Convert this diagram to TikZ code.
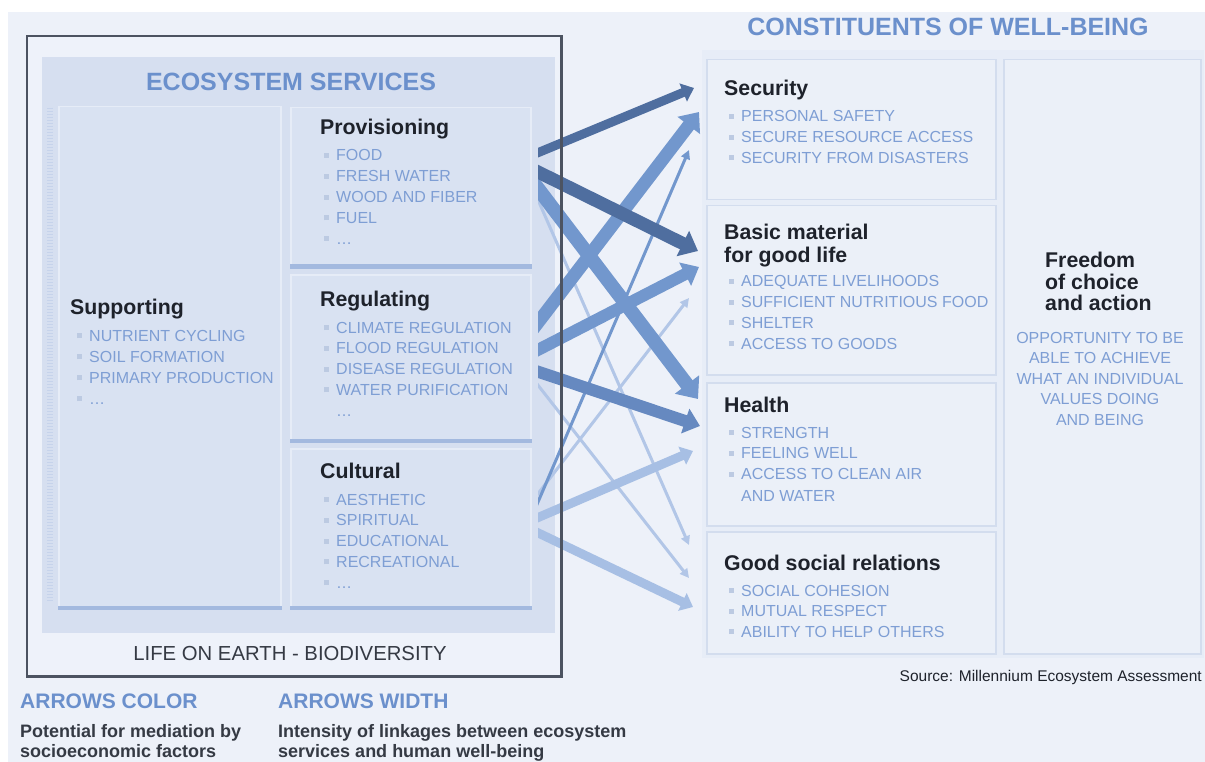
\documentclass[tikz,border=0pt]{standalone}
\usepackage{fontspec}
\setmainfont{Liberation Sans}
\usetikzlibrary{arrows.meta}
\definecolor{bgc}{HTML}{EDF1F9}
\definecolor{outerc}{HTML}{EEF2FA}
\definecolor{panelc}{HTML}{D6DFF0}
\definecolor{boxc}{HTML}{D9E2F2}
\definecolor{boxedge}{HTML}{E6ECF7}
\definecolor{barc}{HTML}{A3B9DF}
\definecolor{rboxc}{HTML}{EBF0F8}
\definecolor{rboxedge}{HTML}{D3DDEE}
\definecolor{rpanelc}{HTML}{E7EDF7}
\definecolor{borderc}{HTML}{4C5361}
\definecolor{headc}{HTML}{6B90CC}
\definecolor{itemc}{HTML}{7E9ED4}
\definecolor{bulc}{HTML}{BCCAE2}
\definecolor{titlec}{HTML}{1E222B}
\definecolor{grayt}{HTML}{353A44}
\definecolor{adark}{HTML}{4F6E9F}
\definecolor{amed}{HTML}{7297CD}
\definecolor{amedd}{HTML}{6689C0}
\definecolor{alight}{HTML}{A7BFE4}
\definecolor{athin}{HTML}{B2C6E7}
\definecolor{rulerc}{HTML}{C6D3EB}
\newcommand\itmbul{\llap{\textcolor{bulc}{\rule[3pt]{5pt}{5pt}}\hspace{7pt}}}
\begin{document}
\begin{tikzpicture}[x=1pt,y=-1pt,
  item/.style={font=\fontsize{16}{19}\selectfont, text=itemc, inner sep=0pt, anchor=base west},
  ttl/.style={font=\bfseries\fontsize{21.3}{24}\selectfont, text=titlec, inner sep=0pt, anchor=base west},
  head/.style={font=\bfseries\fontsize{25}{28}\selectfont, text=headc, inner sep=0pt, anchor=base},
  lbox/.style={fill=boxc, draw=boxedge, line width=1.5pt, inner sep=0pt, anchor=north west},
  rbox/.style={fill=rboxc, draw=rboxedge, line width=1.5pt, inner sep=0pt, anchor=north west},
  bar/.style={draw=barc, line width=4pt},
  fat/.style={line width=#1, -{Triangle[length=0pt 1.3, width=0pt 2.1]}},
  slim/.style={line width=#1, -{Triangle[length=9pt, width=9pt]}},
  legh/.style={font=\bfseries\fontsize{21}{24}\selectfont, text=headc, inner sep=0pt, anchor=base west},
  legt/.style={font=\bfseries\fontsize{18}{20}\selectfont, text=grayt, inner sep=0pt, anchor=base west}]
\useasboundingbox (0,0) rectangle (1205,762);
% background
\fill[white] (0,0) rectangle (1205,762);
\fill[bgc] (8,12) rectangle (1205,762);
\fill[rpanelc] (702,50) rectangle (1204,658);
% left frame and panel
\node[fill=outerc, inner sep=0pt, anchor=north west, minimum width=534pt, minimum height=640pt] (outer) at (27,36) {};
\node[fill=panelc, inner sep=0pt, anchor=north west, minimum width=513pt, minimum height=576pt] (panel) at (42,57) {};
% left boxes
\node[lbox, minimum width=222pt, minimum height=500pt] (supp) at (58,106) {};
\node[lbox, minimum width=240pt, minimum height=158pt] (prov) at (290,107) {};
\node[lbox, minimum width=240pt, minimum height=165pt] (regu) at (290,274) {};
\node[lbox, minimum width=240pt, minimum height=158pt] (cult) at (290,448) {};
\draw[bar] (supp.south west) -- (supp.south east);
\draw[bar] (prov.south west) -- (prov.south east);
\draw[bar] (regu.south west) -- (regu.south east);
\draw[bar] (cult.south west) -- (cult.south east);
\draw[rulerc, line width=6pt, dash pattern=on 1pt off 2pt] (50,108) -- (50,602);
% right boxes
\node[rbox, minimum width=289pt, minimum height=140pt] (secu) at (706,59) {};
\node[rbox, minimum width=289pt, minimum height=169pt] (basic) at (706,205) {};
\node[rbox, minimum width=289pt, minimum height=143pt] (health) at (706,382) {};
\node[rbox, minimum width=289pt, minimum height=122pt] (social) at (706,531) {};
\node[rbox, minimum width=197pt, minimum height=594pt] (free) at (1003,59) {};
% arrow end points
\coordinate (s1) at (530,156);  \coordinate (e1) at (694,88);
\coordinate (s2) at (530,168);  \coordinate (e2) at (698,251);
\coordinate (s3) at (530,178);  \coordinate (e3) at (698,399);
\coordinate (s4) at (535,193);  \coordinate (e4) at (689,545);
\coordinate (s5) at (530,333);  \coordinate (e5) at (699,112);
\coordinate (s6) at (530,354);  \coordinate (e6) at (699,267);
\coordinate (s7) at (530,369);  \coordinate (e7) at (700,426);
\coordinate (s8) at (530,375);  \coordinate (e8) at (689,578);
\coordinate (s9) at (535,509);  \coordinate (e9) at (689,150);
\coordinate (s10) at (530,504); \coordinate (e10) at (689,298);
\coordinate (s11) at (530,521); \coordinate (e11) at (693,451);
\coordinate (s12) at (530,529); \coordinate (e12) at (693,607);
\begin{scope}
\clip (538,0) rectangle (1205,762);
\draw[slim=3pt, athin] (s4) -- (e4);
\draw[slim=3pt, athin] (s8) -- (e8);
\draw[slim=3pt, athin] (s10) -- (e10);
\draw[slim=3pt, amed] (s9) -- (e9);
\draw[fat=9pt, alight] (s11) -- (e11);
\draw[fat=9pt, alight] (s12) -- (e12);
\draw[fat=13pt, amed] (s5) -- (e5);
\draw[fat=12pt, amed] (s6) -- (e6);
\draw[fat=14pt, amed] (s3) -- (e3);
\draw[fat=12pt, amedd] (s7) -- (e7);
\draw[fat=13pt, adark] (s2) -- (e2);
\draw[fat=9pt, adark] (s1) -- (e1);
\end{scope}
% frame border on top
\draw[borderc, line width=2.2pt] (outer.north west) rectangle (outer.south east);
% headings
\node[head] (eshead) at (291,91) {ECOSYSTEM SERVICES};
\node[head] (cwhead) at (948,36) {CONSTITUENTS OF WELL-BEING};
% supporting
\node[ttl] (supt) at (70,314.5) {Supporting};
\foreach \t [count=\i] in {NUTRIENT CYCLING,SOIL FORMATION,PRIMARY PRODUCTION}
  \node[item] (sp\i) at (89,{341+21*(\i-1)}) {\itmbul\t};
\node[item] (sp4) at (89,404) {\itmbul\ldots};
% provisioning
\node[ttl] (provt) at (320,134.5) {Provisioning};
\foreach \t [count=\i] in {FOOD,FRESH WATER,WOOD AND FIBER,FUEL}
  \node[item] (pv\i) at (336,{161+20.8*(\i-1)}) {\itmbul\t};
\node[item] (pv5) at (336,244) {\itmbul\ldots};
% regulating
\node[ttl] (regt) at (320,306.5) {Regulating};
\foreach \t [count=\i] in {CLIMATE REGULATION,FLOOD REGULATION,DISEASE REGULATION,WATER PURIFICATION}
  \node[item] (rg\i) at (336,{333+20.8*(\i-1)}) {\itmbul\t};
\node[item] (rg5) at (336,416) {\ldots};
% cultural
\node[ttl] (cultt) at (320,478.5) {Cultural};
\foreach \t [count=\i] in {AESTHETIC,SPIRITUAL,EDUCATIONAL,RECREATIONAL}
  \node[item] (cu\i) at (336,{505+20.8*(\i-1)}) {\itmbul\t};
\node[item] (cu5) at (336,588) {\itmbul\ldots};
\node[font=\fontsize{20.3}{23}\selectfont, text=grayt, inner sep=0pt, anchor=base] (life) at (290,660) {LIFE ON EARTH - BIODIVERSITY};
% security
\node[ttl] (sect) at (724,95.5) {Security};
\foreach \t [count=\i] in {PERSONAL SAFETY,SECURE RESOURCE ACCESS,SECURITY FROM DISASTERS}
  \node[item] (se\i) at (741,{122+20.6*(\i-1)}) {\itmbul\t};
% basic material
\node[ttl] (bast1) at (724,239.5) {Basic material};
\node[ttl] (bast2) at (724,262.5) {for good life};
\foreach \t [count=\i] in {ADEQUATE LIVELIHOODS,SUFFICIENT NUTRITIOUS FOOD,SHELTER,ACCESS TO GOODS}
  \node[item] (ba\i) at (741,{287+20.7*(\i-1)}) {\itmbul\t};
% health
\node[ttl] (healt) at (724,412.5) {Health};
\foreach \t [count=\i] in {STRENGTH,FEELING WELL,ACCESS TO CLEAN AIR}
  \node[item] (he\i) at (741,{438+20.8*(\i-1)}) {\itmbul\t};
\node[item] (he4) at (741,501) {AND WATER};
% social
\node[ttl] (soct) at (724,570.5) {Good social relations};
\foreach \t [count=\i] in {SOCIAL COHESION,MUTUAL RESPECT,ABILITY TO HELP OTHERS}
  \node[item] (so\i) at (741,{596+20.5*(\i-1)}) {\itmbul\t};
% freedom
\node[ttl] (fr1) at (1045,267.5) {Freedom};
\node[ttl] (fr2) at (1045,289.5) {of choice};
\node[ttl] (fr3) at (1045,310.5) {and action};
\foreach \t [count=\i] in {OPPORTUNITY TO BE,ABLE TO ACHIEVE,WHAT AN INDIVIDUAL,VALUES DOING,AND BEING}
  \node[item, anchor=base] (fi\i) at (1100,{343+20.5*(\i-1)}) {\t};
% source and legend
\node[font=\fontsize{15.5}{18}\selectfont, text=titlec, inner sep=0pt, anchor=base east] (src) at (1202,681) {Source: Millennium Ecosystem Assessment};
\node[legh] (lch) at (20,708.5) {ARROWS COLOR};
\node[legh] (lwh) at (278,708.5) {ARROWS WIDTH};
\node[legt] (lc1) at (20,737) {Potential for mediation by};
\node[legt] (lc2) at (20,757) {socioeconomic factors};
\node[legt] (lw1) at (278,737) {Intensity of linkages between ecosystem};
\node[legt] (lw2) at (278,757) {services and human well-being};
\end{tikzpicture}
\end{document}
